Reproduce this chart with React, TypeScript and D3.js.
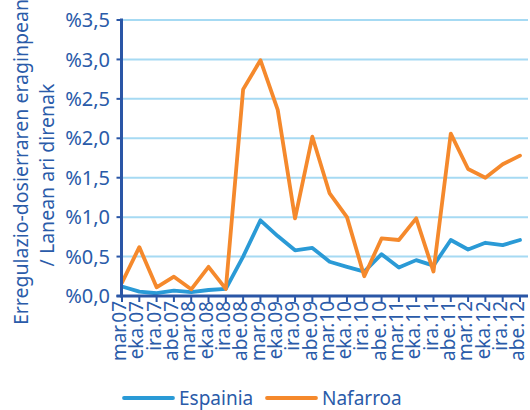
import React from "react";
import * as d3 from "d3";

const categories = [
  "mar.07", "eka.07", "ira.07", "abe.07",
  "mar.08", "eka.08", "ira.08", "abe.08",
  "mar.09", "eka.09", "ira.09", "abe.09",
  "mar.10", "eka.10", "ira.10", "abe.10",
  "mar.11", "eka.11", "ira.11", "abe.11",
  "mar.12", "eka.12", "ira.12", "abe.12",
];

const espainia = [
  0.12, 0.055, 0.035, 0.068, 0.05, 0.076, 0.09, 0.5,
  0.96, 0.76, 0.58, 0.61, 0.435, 0.37, 0.31, 0.53,
  0.36, 0.455, 0.385, 0.71, 0.59, 0.675, 0.645, 0.71,
];

const nafarroa = [
  0.17, 0.62, 0.11, 0.245, 0.085, 0.37, 0.09, 2.62,
  2.99, 2.36, 0.985, 2.02, 1.3, 1.0, 0.25, 0.73,
  0.71, 0.985, 0.31, 2.06, 1.61, 1.5, 1.67, 1.78,
];

const yTicks = [0, 0.5, 1.0, 1.5, 2.0, 2.5, 3.0, 3.5];

const seriesNames = ["Espainia", "Nafarroa"];
const seriesColors = ["#2a9ad6", "#f5892c"];

const TEXT = "#2a5ba9";
const AXIS = "#2a56a6";
const GRID = "#a6daf3";
const FONT = "'Noto Sans', sans-serif";

export default function App() {
  const width = 530;
  const height = 410;
  const left = 121.5;
  const right = 528;
  const top = 20;
  const bottom = 296;

  const x = d3.scalePoint<string>().domain(categories).range([122, 520]).padding(0);
  const y = d3.scaleLinear().domain([0, 3.5]).range([bottom, top]);

  const line = d3
    .line<number>()
    .x((_, i) => x(categories[i]) as number)
    .y((d) => y(d));

  const fmt = (v: number) => "%" + v.toFixed(1).replace(".", ",");

  const series = [espainia, nafarroa];

  return (
    <div style={{ position: "absolute", left: 0, top: 0 }}>
      <svg width={width} height={height} style={{ display: "block", fontFamily: FONT }}>
        <rect x={0} y={0} width={width} height={height} fill="#fff" />
        {yTicks.map((t) =>
          t === 0 ? null : (
            <line key={"g" + t} x1={left} x2={right} y1={y(t)} y2={y(t)} stroke={GRID} strokeWidth={2} />
          )
        )}
        {series.map((s, i) => (
          <path
            key={seriesNames[i]}
            d={line(s) || ""}
            fill="none"
            stroke={seriesColors[i]}
            strokeWidth={3.8}
            strokeLinejoin="round"
            strokeLinecap="round"
          />
        ))}
        {/* y axis */}
        <line x1={left} x2={left} y1={top - 1.5} y2={bottom + 1.5} stroke={AXIS} strokeWidth={3} />
        {yTicks.map((t) => (
          <g key={"yt" + t}>
            <line x1={left - 5} x2={left} y1={y(t)} y2={y(t)} stroke={AXIS} strokeWidth={2} />
            <text x={110} y={y(t)} dy="0.36em" textAnchor="end" fill={TEXT} fontSize={20}>
              {fmt(t)}
            </text>
          </g>
        ))}
        {/* x axis */}
        <line x1={left - 5} x2={right} y1={bottom} y2={bottom} stroke={AXIS} strokeWidth={3} />
        {categories.map((c) => (
          <g key={c}>
            <line x1={x(c)} x2={x(c)} y1={bottom} y2={bottom + 6} stroke={AXIS} strokeWidth={2} />
            <text
              transform={`translate(${(x(c) as number)},${bottom + 5}) rotate(-90)`}
              dy="0.22em"
              textAnchor="end"
              fill={TEXT}
              fontSize={19}
            >
              {c}
            </text>
          </g>
        ))}
        {/* y axis title */}
        <text transform={`translate(21,162) rotate(-90)`} textAnchor="middle" dy="0.36em" fill={TEXT} fontSize={19.5}>
          Erregulazio-dosierraren eraginpean
        </text>
        <text transform={`translate(47,175) rotate(-90)`} textAnchor="middle" dy="0.36em" fill={TEXT} fontSize={19.5}>
          / Lanean ari direnak
        </text>
        {/* legend */}
        {seriesNames.map((n, i) => {
          const lx = i === 0 ? 124 : 267;
          return (
            <g key={"lg" + n}>
              <line x1={lx} x2={lx + 49} y1={398} y2={398} stroke={seriesColors[i]} strokeWidth={3.8} strokeLinecap="round" />
              <text x={lx + 55} y={398} dy="0.36em" fill={TEXT} fontSize={19}>
                {n}
              </text>
            </g>
          );
        })}
      </svg>
    </div>
  );
}
